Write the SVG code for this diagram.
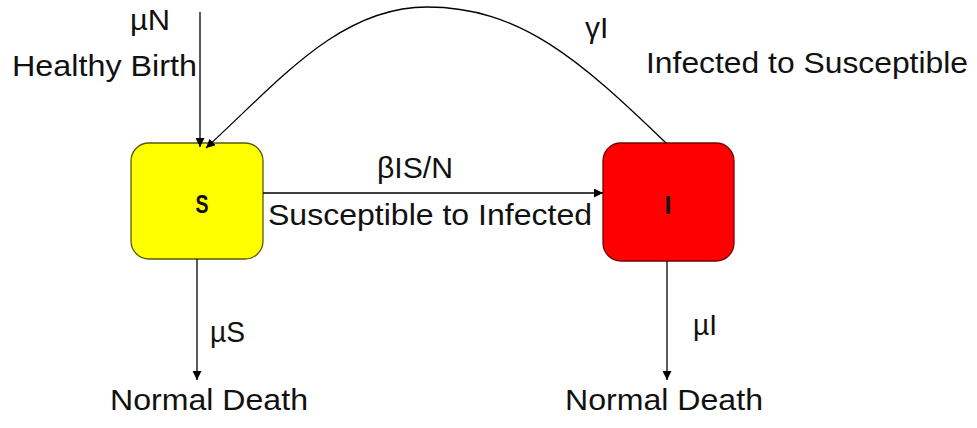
<svg xmlns="http://www.w3.org/2000/svg" width="977" height="428" viewBox="0 0 977 428">
<defs>
<marker id="ah" viewBox="0 0 10 10" refX="10" refY="5" markerWidth="9" markerHeight="9" markerUnits="userSpaceOnUse" orient="auto">
<path d="M0,0 L10,5 L0,10 z" fill="#000"/>
</marker>
<style>
.t{font-family:"Liberation Sans",Arial,sans-serif;font-size:30px;fill:#111}
.b{font-family:"Liberation Sans",Arial,sans-serif;font-size:25px;font-weight:bold;fill:#111;text-anchor:middle}
.c{fill:none;stroke:#000;stroke-width:1.3;marker-end:url(#ah)}
</style>
</defs>
<rect width="977" height="428" fill="#fff"/>
<g id="S">
<rect x="131" y="143" width="132" height="116" rx="18" fill="#FFFF00" stroke="#5a5a00" stroke-width="1.3"/>
<text class="b" x="202" y="213" textLength="13" lengthAdjust="spacingAndGlyphs">S</text>
</g>
<g id="I">
<rect x="603" y="143" width="131" height="118" rx="18" fill="#FF0000" stroke="#7a0000" stroke-width="1.3"/>
<text class="b" x="668" y="214">I</text>
</g>
<g id="connectors">
<line class="c" x1="200" y1="12" x2="200" y2="147"/>
<path class="c" d="M666 143 C580 60 520 7 427 7 C340 7 280 80 206 148"/>
<line class="c" x1="263" y1="193" x2="603" y2="193"/>
<line class="c" x1="197" y1="259" x2="197" y2="380"/>
<line class="c" x1="667" y1="261" x2="667" y2="380"/>
</g>
<g id="labels">
<text class="t" x="130" y="30" textLength="40" lengthAdjust="spacingAndGlyphs">µN</text>
<text class="t" x="12" y="76" textLength="185" lengthAdjust="spacingAndGlyphs">Healthy Birth</text>
<text class="t" x="585" y="38">γI</text>
<text class="t" x="646" y="73" textLength="322" lengthAdjust="spacingAndGlyphs">Infected to Susceptible</text>
<text class="t" x="377" y="178" textLength="76" lengthAdjust="spacingAndGlyphs">βIS/N</text>
<text class="t" x="268" y="225" textLength="324" lengthAdjust="spacingAndGlyphs">Susceptible to Infected</text>
<text class="t" x="210" y="342" textLength="35" lengthAdjust="spacingAndGlyphs">µS</text>
<text class="t" x="693" y="335" textLength="24" lengthAdjust="spacingAndGlyphs">µI</text>
<text class="t" x="110" y="410" textLength="198" lengthAdjust="spacingAndGlyphs">Normal Death</text>
<text class="t" x="565" y="410" textLength="198" lengthAdjust="spacingAndGlyphs">Normal Death</text>
</g>
</svg>
